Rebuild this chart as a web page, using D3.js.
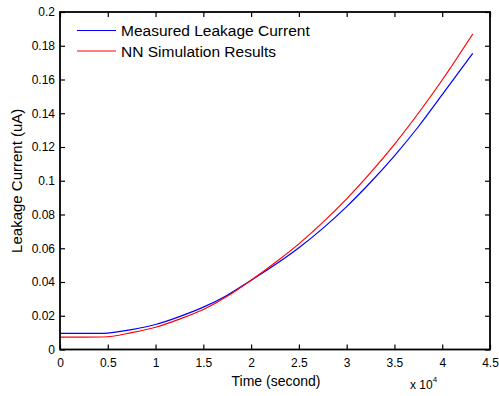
<!DOCTYPE html>
<html>
<head>
<meta charset="utf-8">
<script src="https://cdn.jsdelivr.net/npm/d3@7"></script>
<style>
  body { margin: 0; background: #fff; }
  svg { display: block; font-family: "Liberation Sans", Arial, sans-serif; }
</style>
</head>
<body>
<svg id="chart" width="499" height="396"></svg>
<script>
// time in units of 1e4 seconds
const timeMeasured = [0, 0.25, 0.45, 0.75, 1, 1.25, 1.5, 1.75, 2, 2.25, 2.5, 2.75, 3, 3.25, 3.5, 3.75, 4, 4.32];
const measured     = [0.0095, 0.0095, 0.0096, 0.0118, 0.0148, 0.0195, 0.0251, 0.0322, 0.041, 0.0502, 0.0603, 0.0718, 0.0847, 0.0991, 0.1148, 0.132, 0.151, 0.1755];

const timeNN = [0, 0.25, 0.45, 0.75, 1, 1.25, 1.5, 1.75, 2, 2.25, 2.5, 2.75, 3, 3.25, 3.5, 3.75, 4, 4.32];
const nnResult = [0.0073, 0.0073, 0.0074, 0.0100, 0.0132, 0.018, 0.0237, 0.0315, 0.041, 0.0514, 0.0626, 0.0753, 0.0893, 0.1048, 0.1216, 0.14, 0.1597, 0.187];

const xTicks = [0, 0.5, 1, 1.5, 2, 2.5, 3, 3.5, 4, 4.5];
const yTicks = [0, 0.02, 0.04, 0.06, 0.08, 0.1, 0.12, 0.14, 0.16, 0.18, 0.2];
const seriesNames = ["Measured Leakage Current", "NN Simulation Results"];
const seriesColors = ["#0000ff", "#ff0000"];

const svg = d3.select("#chart");
const mLeft = 60, mRight = 490, mTop = 12, mBottom = 349.5;

const x = d3.scaleLinear().domain([0, 4.5]).range([mLeft, mRight]);
const y = d3.scaleLinear().domain([0, 0.2]).range([mBottom, mTop]);

const line = d3.line()
  .x(d => x(d[0]))
  .y(d => y(d[1]))
  .curve(d3.curveMonotoneX);

const series = [
  d3.zip(timeMeasured, measured),
  d3.zip(timeNN, nnResult)
];

svg.append("g").selectAll("path")
  .data(series)
  .join("path")
  .attr("d", line)
  .attr("fill", "none")
  .attr("stroke", (d, i) => seriesColors[i])
  .attr("stroke-width", 1.2);

const fmt = d => d === 0 ? "0" : String(d);

// axes, MATLAB style box with ticks inside
svg.append("g")
  .attr("transform", `translate(0,${mBottom})`)
  .call(d3.axisBottom(x).tickValues(xTicks).tickSize(-5).tickPadding(9).tickFormat(fmt))
  .call(g => g.select(".domain").remove());
svg.append("g")
  .attr("transform", `translate(0,${mTop})`)
  .call(d3.axisTop(x).tickValues(xTicks).tickSize(-5).tickFormat(""))
  .call(g => g.select(".domain").remove());
svg.append("g")
  .attr("transform", `translate(${mLeft},0)`)
  .call(d3.axisLeft(y).tickValues(yTicks).tickSize(-5).tickPadding(5).tickFormat(fmt))
  .call(g => g.select(".domain").remove());
svg.append("g")
  .attr("transform", `translate(${mRight},0)`)
  .call(d3.axisRight(y).tickValues(yTicks).tickSize(-5).tickFormat(""))
  .call(g => g.select(".domain").remove());

svg.selectAll(".tick text")
  .attr("font-size", 12)
  .attr("font-family", "Liberation Sans, Arial, sans-serif")
  .attr("fill", "#000");
svg.selectAll(".tick line").attr("stroke", "#000").attr("stroke-width", 1.2);

svg.append("rect")
  .attr("x", mLeft).attr("y", mTop)
  .attr("width", mRight - mLeft).attr("height", mBottom - mTop)
  .attr("fill", "none")
  .attr("stroke", "#000")
  .attr("stroke-width", 1.8);

// labels
svg.append("text")
  .attr("x", 276).attr("y", 386)
  .attr("text-anchor", "middle")
  .attr("font-size", 14)
  .text("Time (second)");

svg.append("text")
  .attr("transform", `translate(22,${(mTop + mBottom) / 2}) rotate(-90)`)
  .attr("text-anchor", "middle")
  .attr("font-size", 15)
  .text("Leakage Current (uA)");

const mult = svg.append("text")
  .attr("x", 410).attr("y", 389)
  .attr("font-size", 12);
mult.append("tspan").text("x 10");
mult.append("tspan").attr("dy", -7).attr("font-size", 8).text("4");

// legend
const legend = svg.append("g").selectAll("g")
  .data(seriesNames)
  .join("g")
  .attr("transform", (d, i) => `translate(0,${30.5 + i * 20.5})`);
legend.append("line")
  .attr("x1", 77).attr("x2", 116)
  .attr("stroke", (d, i) => seriesColors[i])
  .attr("stroke-width", 1.2);
legend.append("text")
  .attr("x", 121).attr("y", 5.5)
  .attr("font-size", 15.5)
  .text(d => d);
</script>
</body>
</html>
